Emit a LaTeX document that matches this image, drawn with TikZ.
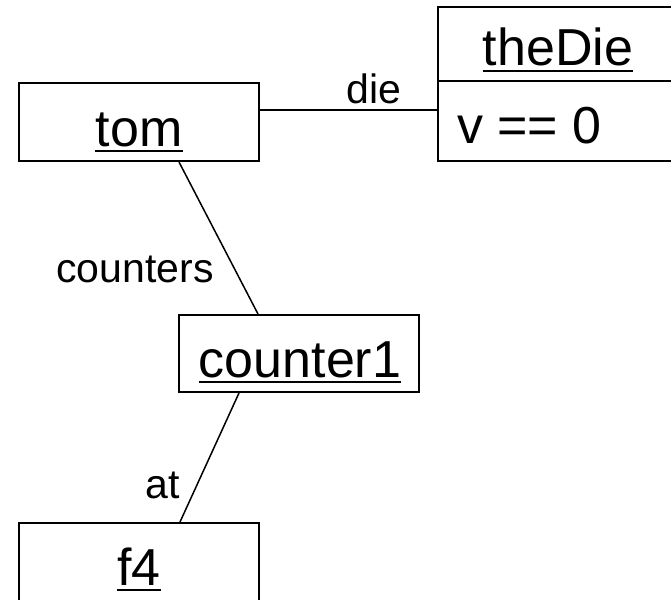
\documentclass[tikz,border=0pt]{standalone}
\usepackage{fontspec}
\setmainfont{Liberation Sans}
\begin{document}
\begin{tikzpicture}[x=1pt,y=-1pt,
  box/.style={draw,line width=2pt,fill=white,inner sep=0pt},
  nm/.style={inner sep=0pt,anchor=base,font=\fontsize{52}{60}\selectfont},
  lab/.style={inner sep=0pt,anchor=base,font=\fontsize{41}{48}\selectfont},
  conn/.style={line width=1.5pt},
  uline/.style={line width=2.2pt}]
\useasboundingbox (0,0) rectangle (671,599);
\clip (0,0) rectangle (671,599);
% boxes
\node[box,minimum width=240pt,minimum height=78pt] (tom) at (139,122) {};
\node[box,minimum width=240pt,minimum height=74pt] (dieHead) at (558,44) {};
\node[box,minimum width=240pt,minimum height=80pt] (dieBody) at (558,121) {};
\node[box,minimum width=240pt,minimum height=77pt] (counter) at (299,353.5) {};
\node[box,minimum width=240pt,minimum height=78pt] (ffour) at (139,562) {};
% names
\node[nm] (tomT) at (139,146) {tom};
\node[nm] (dieT) at (558,66) {theDie};
\node[nm,anchor=base west] (vT) at (457,143) {v == 0};
\node[nm] (counterT) at (300,377) {counter1};
\node[nm] (ffourT) at (139,585) {f4};
\foreach \t in {tomT,dieT,counterT,ffourT}
  \draw[uline] ([yshift=-5pt]\t.base west) -- ([yshift=-5pt]\t.base east);
% connectors
\draw[conn] ([yshift=12pt]tom.east) -- ([yshift=12pt]tom.east -| dieBody.west);
\draw[conn] ([xshift=40pt]tom.south) -- ([xshift=-41pt]counter.north);
\draw[conn] ([xshift=-60pt]counter.south) -- ([xshift=41pt]ffour.north);
% labels
\node[lab] (lDie) at (374,103) {die};
\node[lab] (lCounters) at (135,282) {counters};
\node[lab] (lAt) at (163,498) {at};
\end{tikzpicture}
\end{document}
